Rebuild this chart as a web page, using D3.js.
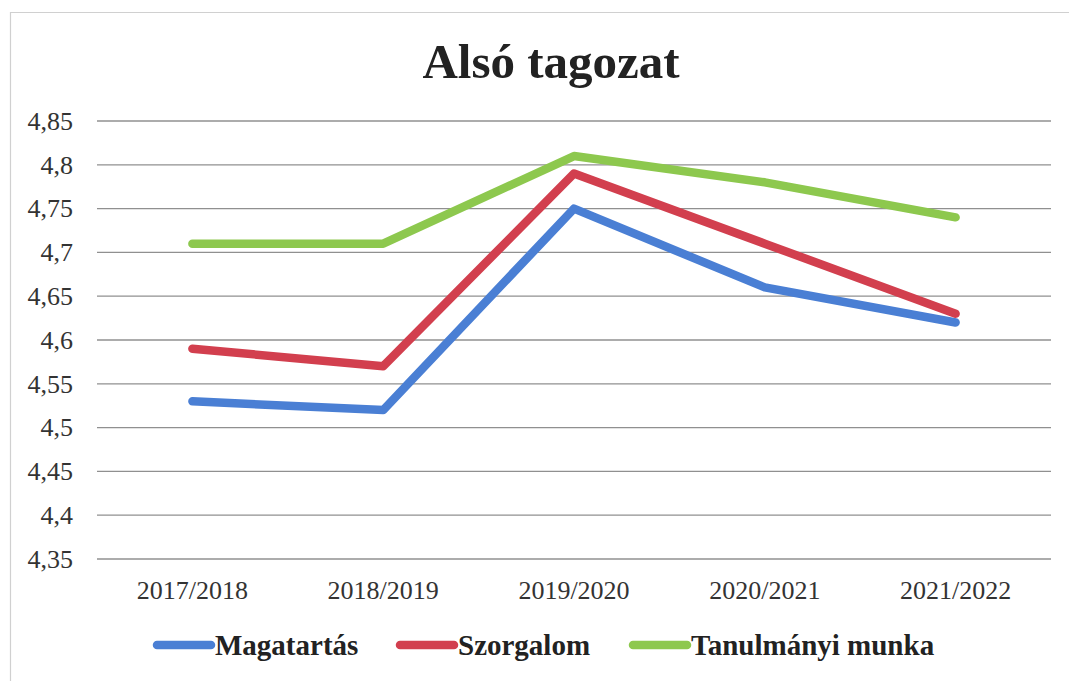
<!DOCTYPE html>
<html>
<head>
<meta charset="utf-8">
<script src="https://cdn.jsdelivr.net/npm/d3@7"></script>
<style>
  body { margin: 0; background: #fff; }
  svg { display: block; }
  svg text { font-family: "Liberation Serif", "DejaVu Serif", serif; }
</style>
</head>
<body>
<div id="chart"></div>
<script>
// chart data
var years = ["2017/2018", "2018/2019", "2019/2020", "2020/2021", "2021/2022"];
var magatartas = [4.53, 4.52, 4.75, 4.66, 4.62];
var szorgalom = [4.59, 4.57, 4.79, 4.71, 4.63];
var tanulmanyi = [4.71, 4.71, 4.81, 4.78, 4.74];
var yTicks = [4.35, 4.4, 4.45, 4.5, 4.55, 4.6, 4.65, 4.7, 4.75, 4.8, 4.85];

var series = [
    { name: "Magatartás", values: magatartas, color: "#4a7fd4" },
    { name: "Szorgalom", values: szorgalom, color: "#d23f4e" },
    { name: "Tanulmányi munka", values: tanulmanyi, color: "#8dc84e" }
];

var svgWidth = 1069;
var svgHeight = 681;

var chartMargin = { top: 121, right: 18, bottom: 122, left: 97 };
var chartWidth = svgWidth - chartMargin.left - chartMargin.right;
var chartHeight = svgHeight - chartMargin.top - chartMargin.bottom;

var svg = d3.select("#chart")
    .append("svg")
    .attr("width", svgWidth)
    .attr("height", svgHeight);

// outer frame (right side is cut off in the scan)
svg.append("path")
    .attr("d", "M10.5,681 L10.5,12.5 L1069,12.5")
    .attr("fill", "none")
    .attr("stroke", "#d0d0d0")
    .attr("stroke-width", 1.2);

svg.append("text")
    .attr("x", 551)
    .attr("y", 78)
    .attr("text-anchor", "middle")
    .attr("font-size", 49)
    .attr("font-weight", "bold")
    .attr("fill", "#222")
    .text("Alsó tagozat");

var chartGroup = svg.append("g")
    .attr("transform", `translate(${chartMargin.left}, ${chartMargin.top})`);

var x = d3.scaleBand().domain(years).range([0, chartWidth]);
var y = d3.scaleLinear().domain([4.35, 4.85]).range([chartHeight, 0]);

// gridlines
chartGroup.selectAll(".grid")
    .data(yTicks)
    .enter().append("line")
    .attr("x1", 0)
    .attr("x2", chartWidth)
    .attr("y1", d => y(d))
    .attr("y2", d => y(d))
    .attr("stroke", "#909090")
    .attr("stroke-width", 1.3);

var fmt = d => String(+d.toFixed(2)).replace(".", ",");

var yAxis = d3.axisLeft(y).tickValues(yTicks).tickFormat(fmt).tickSize(0).tickPadding(24);
chartGroup.append("g").call(yAxis)
    .attr("font-family", null)
    .call(g => g.select(".domain").remove())
    .selectAll("text")
    .attr("font-size", 26)
    .attr("fill", "#333");

var xAxis = d3.axisBottom(x).tickSize(0).tickPadding(22);
chartGroup.append("g")
    .attr("transform", `translate(0, ${chartHeight})`)
    .call(xAxis)
    .attr("font-family", null)
    .call(g => g.select(".domain").remove())
    .selectAll("text")
    .attr("font-size", 26)
    .attr("fill", "#333");

var line = d3.line()
    .x((d, i) => x(years[i]) + x.bandwidth() / 2)
    .y(d => y(d));

chartGroup.selectAll(".series")
    .data(series)
    .enter().append("path")
    .attr("d", d => line(d.values))
    .attr("fill", "none")
    .attr("stroke", d => d.color)
    .attr("stroke-width", 8.5)
    .attr("stroke-linecap", "round")
    .attr("stroke-linejoin", "round");

// legend
var legendX = [157, 400, 633];
var legend = svg.selectAll(".legend")
    .data(series)
    .enter().append("g")
    .attr("transform", (d, i) => `translate(${legendX[i]}, 645)`);

legend.append("line")
    .attr("x1", 0)
    .attr("x2", 54)
    .attr("y1", 0)
    .attr("y2", 0)
    .attr("stroke", d => d.color)
    .attr("stroke-width", 8.5)
    .attr("stroke-linecap", "round");

legend.append("text")
    .attr("x", 58)
    .attr("y", 10)
    .attr("font-size", 29)
    .attr("font-weight", "bold")
    .attr("fill", "#222")
    .text(d => d.name);
</script>
</body>
</html>
